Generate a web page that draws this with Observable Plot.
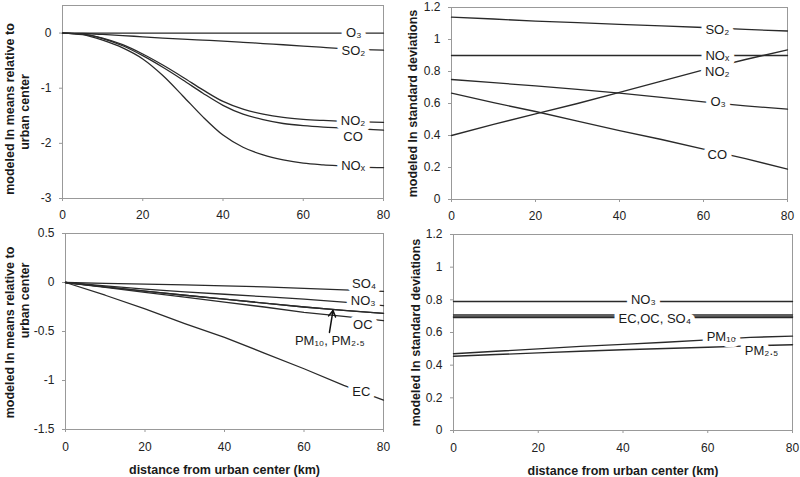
<!DOCTYPE html>
<html><head><meta charset="utf-8">
<script src="https://cdn.jsdelivr.net/npm/d3@7"></script>
<script src="https://cdn.jsdelivr.net/npm/@observablehq/plot@0.6"></script>
<style>
body{margin:0;background:#fff;}
#root{position:relative;width:800px;height:477px;overflow:hidden;background:#fff;}
#root svg{position:absolute;}
</style></head><body><div id="root"></div>
<script>
// ---------- DATA ----------
// Top-left: modeled ln means relative to urban center (gases)
const xGas = [0,5,10,15,20,25,30,35,40,45,50,55,60,65,70,75,80];
const meanO3  = [0,0,0,0,0,0,0,0,0,0,0,0,0,0,0,0,0];
const meanSO2 = [0,-0.008,-0.025,-0.045,-0.068,-0.09,-0.11,-0.128,-0.145,-0.167,-0.19,-0.212,-0.235,-0.26,-0.285,-0.3,-0.31];
const meanNO2 = [0,-0.02,-0.09,-0.21,-0.38,-0.58,-0.8,-1.03,-1.24,-1.38,-1.47,-1.53,-1.565,-1.585,-1.6,-1.61,-1.62];
const meanCO  = [0,-0.02,-0.1,-0.23,-0.41,-0.62,-0.85,-1.09,-1.31,-1.47,-1.57,-1.64,-1.68,-1.705,-1.72,-1.74,-1.76];
const meanNOx = [0,-0.03,-0.13,-0.27,-0.47,-0.77,-1.14,-1.52,-1.85,-2.07,-2.21,-2.3,-2.36,-2.39,-2.41,-2.43,-2.44];

// Top-right: modeled ln standard deviations (gases)
const xSd = [0,10,20,30,40,50,60,70,80];
const sdSO2 = [1.14,1.128,1.115,1.105,1.095,1.085,1.075,1.063,1.053];
const sdNOx = [0.9,0.9,0.9,0.9,0.9,0.9,0.9,0.9,0.9];
const sdNO2 = [0.4,0.47,0.535,0.6,0.67,0.74,0.81,0.875,0.935];
const sdO3  = [0.75,0.73,0.71,0.688,0.665,0.638,0.61,0.585,0.565];
const sdCO  = [0.665,0.605,0.55,0.49,0.43,0.375,0.315,0.255,0.19];

// Bottom-left: modeled ln means relative to urban center (particles)
const xPm = [0,10,20,30,40,50,60,70,80];
const meanSO4  = [0,-0.008,-0.017,-0.025,-0.034,-0.045,-0.06,-0.075,-0.09];
const meanNO3  = [0,-0.035,-0.068,-0.095,-0.12,-0.145,-0.17,-0.2,-0.237];
const meanPM10 = [0,-0.045,-0.088,-0.13,-0.17,-0.21,-0.25,-0.285,-0.315];
const meanPM25 = [0,-0.045,-0.088,-0.13,-0.17,-0.21,-0.25,-0.285,-0.315];
const meanOC   = [0,-0.05,-0.1,-0.15,-0.2,-0.25,-0.305,-0.345,-0.39];
const meanEC   = [0,-0.13,-0.27,-0.42,-0.56,-0.72,-0.88,-1.05,-1.2];

// Bottom-right: modeled ln standard deviations (particles)
const sdNO3p = [0.79,0.79,0.79,0.79,0.79,0.79,0.79,0.79,0.79];
const sdEC   = [0.708,0.708,0.708,0.708,0.708,0.708,0.708,0.708,0.708];
const sdOC   = [0.7,0.7,0.7,0.7,0.7,0.7,0.7,0.7,0.7];
const sdSO4  = [0.692,0.692,0.692,0.692,0.692,0.692,0.692,0.692,0.692];
const sdPM10 = [0.47,0.485,0.5,0.515,0.527,0.54,0.555,0.57,0.578];
const sdPM25 = [0.455,0.465,0.475,0.485,0.494,0.502,0.51,0.518,0.525];

// Tick values
const xTicks = [0,20,40,60,80];
const yTicksTL = [0,-1,-2,-3];
const yTicksBL = [0.5,0,-0.5,-1,-1.5];
const yTicksSd = [0,0.2,0.4,0.6,0.8,1,1.2];

// Texts
const meanTitle = ["modeled ln means relative to", "urban center"];
const sdTitle = "modeled ln standard deviations";
const xTitle = "distance from urban center (km)";

// Series label annotations (data units)
const labTL = {text:["O₃","SO₂","NO₂","CO","NOₓ"], x:[72.6,72.5,72.4,72.4,72.4], y:[0,-0.32,-1.59,-1.88,-2.4]};
const labTR = {text:["SO₂","NOₓ","NO₂","O₃","CO"], x:[63.3,63.3,63.3,63.5,63.3], y:[1.06,0.9,0.8,0.613,0.277]};
const labBL = {text:["SO₄","NO₃","OC","EC","PM₁₀, PM₂.₅"], x:[75.1,74.9,74.8,74.4,66.5], y:[-0.017,-0.186,-0.43,-1.12,-0.6]};
const labBR = {text:["NO₃","EC,OC, SO₄","PM₁₀","PM₂.₅"], x:[44.8,47.5,63.2,72.7], y:[0.8,0.684,0.571,0.49]};
const arrowBL = [{x1:66.4, y1:-0.51, x2:67.3, y2:-0.285}];

// ---------- BUILD ----------
function longTable(xs, seriesObj) {
  const rows = [];
  for (const [name, vals] of Object.entries(seriesObj))
    vals.forEach((v, i) => rows.push({series: name, x: xs[i], y: v}));
  return rows;
}
function labelRows(l) { return l.text.map((t, i) => ({text: t, x: l.x[i], y: l.y[i]})); }

const FONT = "'Liberation Sans', Arial, Helvetica, sans-serif";

function panel(o) {
  const marks = [
    Plot.frame({stroke: "#999"}),
    Plot.axisX({ticks: xTicks, tickSize: 3, tickPadding: o.xPad ?? 9, tickFormat: d => String(d), label: null, stroke: "#999", fill: "#222", fontSize: 12}),
    Plot.axisY({ticks: o.yTicks, tickSize: 3, tickPadding: 8, tickFormat: d => String(d), label: null, stroke: "#999", fill: "#222", fontSize: 12}),
    Plot.line(o.data, {x: "x", y: "y", z: "series", stroke: "#2a2a2a", strokeWidth: o.sw ?? 1.3, curve: o.curve ?? "linear"}),
    Plot.text(o.labels, {x: "x", y: "y", text: "text", fill: "#1a1a1a", fontSize: 13, stroke: "white", strokeWidth: 10, paintOrder: "stroke", strokeLinejoin: "round"})
  ];
  o.titles.forEach((t, i) => {
    marks.push(Plot.text([t], {text: d => d, frameAnchor: "left", textAnchor: "middle", lineAnchor: "middle", rotate: -90,
      dx: o.titleDx[i], dy: o.titleDy[i], fontWeight: "bold", fontSize: 12.5, fill: "#1a1a1a"}));
  });
  if (o.arrows) marks.push(Plot.arrow(o.arrows, {x1: "x1", y1: "y1", x2: "x2", y2: "y2", stroke: "#111", strokeWidth: 1.5, headLength: 7}));
  if (o.xTitle) marks.push(Plot.text([o.xTitle], {text: d => d, frameAnchor: "bottom", lineAnchor: "middle", dy: 40, fontWeight: "bold", fontSize: 12.5, fill: "#1a1a1a"}));
  const svg = Plot.plot({
    width: o.width, height: o.height,
    marginLeft: o.ml, marginRight: o.mr, marginTop: o.mt, marginBottom: o.mb,
    x: {domain: [0, 80]},
    y: {domain: o.yDomain},
    style: {fontFamily: FONT, fontSize: "12px", color: "#222", background: "transparent", overflow: "visible"},
    marks
  });
  svg.style.left = o.left + "px";
  svg.style.top = o.top + "px";
  document.getElementById("root").appendChild(svg);
}

panel({
  left: 0, top: 0, width: 400, height: 230, ml: 62, mr: 17, mt: 5, mb: 32,
  yDomain: [-3, 0.5], yTicks: yTicksTL, curve: "monotone-x",
  data: longTable(xGas, {O3: meanO3, SO2: meanSO2, NO2: meanNO2, CO: meanCO, NOx: meanNOx}),
  labels: labelRows(labTL),
  titles: meanTitle, titleDx: [-53, -38], titleDy: [7, 10]
});
panel({
  left: 400, top: 0, width: 400, height: 230, ml: 51, mr: 13, mt: 7, mb: 31,
  yDomain: [0, 1.2], yTicks: yTicksSd,
  data: longTable(xSd, {SO2: sdSO2, NOx: sdNOx, NO2: sdNO2, O3: sdO3, CO: sdCO}),
  labels: labelRows(labTR),
  titles: [sdTitle], titleDx: [-39], titleDy: [0]
});
panel({
  left: 0, top: 230, width: 400, height: 247, ml: 65, mr: 17, mt: 3, mb: 48, xPad: 10,
  yDomain: [-1.5, 0.5], yTicks: yTicksBL,
  data: longTable(xPm, {SO4: meanSO4, NO3: meanNO3, PM10: meanPM10, PM25: meanPM25, OC: meanOC, EC: meanEC}),
  labels: labelRows(labBL), arrows: arrowBL,
  titles: meanTitle, titleDx: [-56, -40.5], titleDy: [1, -31],
  xTitle
});
panel({
  left: 400, top: 230, width: 400, height: 247, ml: 53, mr: 8, mt: 4, mb: 47, xPad: 10,
  yDomain: [0, 1.2], yTicks: yTicksSd, sw: 1.4,
  data: longTable(xPm, {NO3: sdNO3p, EC: sdEC, OC: sdOC, SO4: sdSO4, PM10: sdPM10, PM25: sdPM25}),
  labels: labelRows(labBR),
  titles: [sdTitle], titleDx: [-38], titleDy: [0],
  xTitle
});
</script></body></html>
